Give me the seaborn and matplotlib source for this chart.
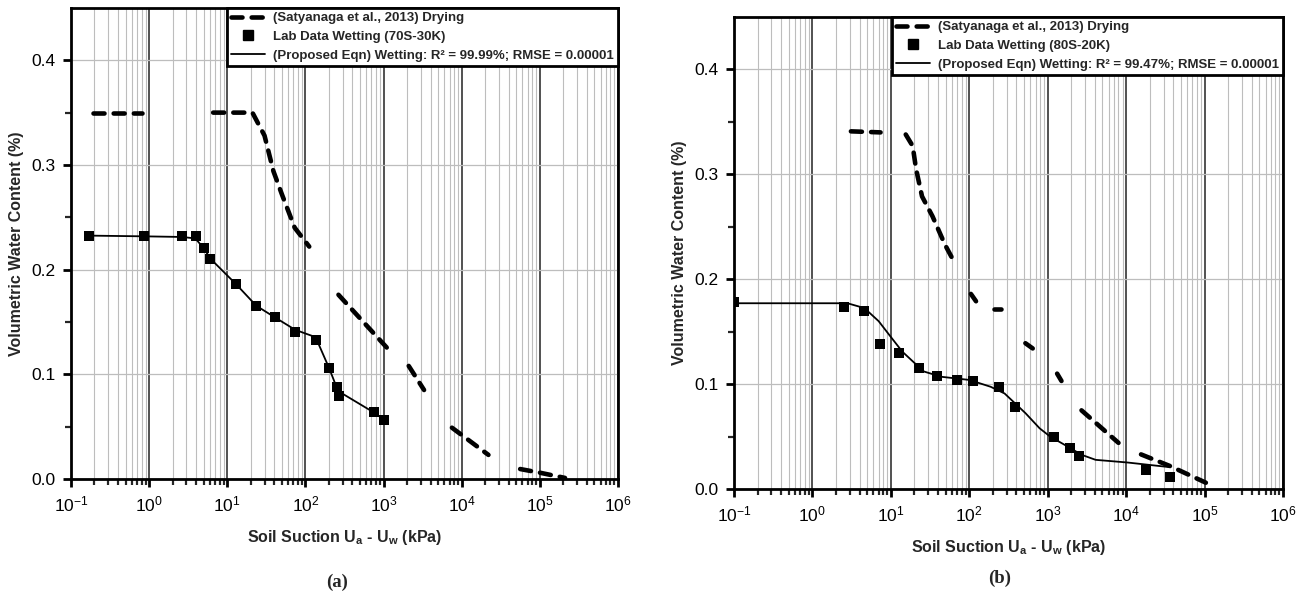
import numpy as np
import pandas as pd
import matplotlib
matplotlib.use('Agg')
import matplotlib.pyplot as plt
import seaborn as sns
from matplotlib.lines import Line2D
from matplotlib.ticker import FixedLocator, MultipleLocator, FormatStrFormatter, LogFormatterSciNotation, NullFormatter

nan = np.nan

# (a) 70S-30K
lab_a_suction = [0.168, 0.87, 2.65, 4.0, 5.0, 6.1, 13.0, 23.5, 40.5, 74, 135, 202, 254, 273, 745, 1010]
lab_a_vwc = [0.2325, 0.2322, 0.2322, 0.2318, 0.2205, 0.2104, 0.1860, 0.1655, 0.1545, 0.1403, 0.1330, 0.1056, 0.0883, 0.0795, 0.0637, 0.0568]
fit_a_suction = [0.168, 0.87, 2.65, 3.9, 5.0, 6.1, 13.0, 23.5, 40.5, 74, 135, 202, 262, 745, 1010]
fit_a_vwc = [0.2325, 0.2318, 0.2312, 0.2298, 0.2205, 0.2104, 0.1860, 0.1655, 0.1545, 0.1425, 0.1355, 0.1056, 0.084, 0.0637, 0.0568]
dry_a_suction = [0.19, 0.82, nan, 6.6, 21, 30, 39, 50, 73, 112, nan, 265, 1250, nan, 2100, 3300, nan, 7500, 22000, nan, 56000, 100000, 210000]
dry_a_vwc = [0.35, 0.35, nan, 0.35, 0.35, 0.328, 0.294, 0.272, 0.240, 0.222, nan, 0.176, 0.121, nan, 0.108, 0.085, nan, 0.049, 0.023, nan, 0.0095, 0.006, 0.001]

# (b) 80S-20K
lab_b_suction = [0.1, 2.5, 4.6, 7.35, 12.7, 23, 38.4, 70.5, 112, 242, 384, 1190, 1910, 2500, 18150, 36100]
lab_b_vwc = [0.1787, 0.1734, 0.1693, 0.1386, 0.1300, 0.1149, 0.1079, 0.1038, 0.1028, 0.0975, 0.0785, 0.0494, 0.0389, 0.0310, 0.0184, 0.0114]
fit_b_suction = [0.1, 2.8, 4.6, 7.0, 10, 14, 19.5, 26.5, 44, 100, 187, 282, 523, 789, 1075, 1796, 2710, 4090, 10300, 35400]
fit_b_vwc = [0.1771, 0.1771, 0.1725, 0.160, 0.145, 0.131, 0.121, 0.112, 0.107, 0.104, 0.0975, 0.0911, 0.0722, 0.0579, 0.050, 0.0405, 0.0326, 0.0278, 0.0253, 0.0209]
dry_b_suction = [3.1, 7.4, nan, 15.5, 19, 21, 25, 34, 49, 67, nan, 105, 122, nan, 207, 255, nan, 520, 645, nan, 1320, 1500, nan, 2700, 8000, nan, 15500, 36000, 104000]
dry_b_vwc = [0.341, 0.340, nan, 0.338, 0.327, 0.305, 0.279, 0.260, 0.233, 0.214, nan, 0.186, 0.179, nan, 0.172, 0.172, nan, 0.139, 0.134, nan, 0.110, 0.103, nan, 0.075, 0.044, nan, 0.033, 0.022, 0.006]

labels_a = ['(Satyanaga et al., 2013) Drying', 'Lab Data Wetting (70S-30K)',
            '(Proposed Eqn) Wetting: R² = 99.99%; RMSE = 0.00001']
labels_b = ['(Satyanaga et al., 2013) Drying', 'Lab Data Wetting (80S-20K)',
            '(Proposed Eqn) Wetting: R² = 99.47%; RMSE = 0.00001']

decades = [10.0 ** k for k in range(-1, 7)]
minor_ticks = [m * d for d in decades[:-1] for m in range(2, 10)]

sns.set_style('ticks')
plt.rcParams['font.family'] = ['Liberation Sans', 'DejaVu Sans']
plt.rcParams['mathtext.fontset'] = 'custom'
plt.rcParams['mathtext.rm'] = 'Liberation Sans'
plt.rcParams['mathtext.bf'] = 'Liberation Sans:bold'
plt.rcParams['mathtext.it'] = 'Liberation Sans:italic'

DASH = (0, (2.4, 2.0))


def segments(xs, ys):
    df = pd.DataFrame({'x': xs, 'y': ys})
    df['seg'] = df['y'].isna().cumsum()
    return df.dropna()


def draw_panel(ax, lab_x, lab_y, fit_x, fit_y, dry_x, dry_y, labels, msize):
    dry = segments(dry_x, dry_y)
    sns.lineplot(data=dry, x='x', y='y', units='seg', estimator=None, sort=False,
                 color='black', lw=3.3, linestyle=DASH, dash_capstyle='round',
                 legend=False, ax=ax, zorder=4)
    fit = pd.DataFrame({'x': fit_x, 'y': fit_y})
    sns.lineplot(data=fit, x='x', y='y', sort=False, estimator=None, color='black',
                 lw=1.3, legend=False, ax=ax, zorder=4)
    lab = pd.DataFrame({'x': lab_x, 'y': lab_y})
    sns.scatterplot(data=lab, x='x', y='y', marker='s', s=msize, color='black',
                    edgecolor='black', linewidth=0, legend=False, ax=ax, zorder=5)

    ax.set_xscale('log')
    ax.xaxis.set_major_locator(FixedLocator(decades))
    ax.xaxis.set_major_formatter(LogFormatterSciNotation())
    ax.xaxis.set_minor_locator(FixedLocator(minor_ticks))
    ax.xaxis.set_minor_formatter(NullFormatter())
    ax.set_xlim(1e-1, 1e6)
    ax.set_ylim(0, 0.45)
    ax.set_yticks([0.0, 0.1, 0.2, 0.3, 0.4])
    ax.yaxis.set_minor_locator(FixedLocator([0.05, 0.15, 0.25, 0.35]))
    ax.yaxis.set_major_formatter(FormatStrFormatter('%.1f'))

    ax.grid(which='major', axis='x', color='#222222', lw=1.1, zorder=0)
    ax.grid(which='minor', axis='x', color='#bdbdbd', lw=0.8, zorder=0)
    ax.grid(which='major', axis='y', color='#bdbdbd', lw=0.9, zorder=0)
    ax.set_axisbelow(True)

    for sp in ax.spines.values():
        sp.set_linewidth(2.0)
        sp.set_color('black')
    ax.tick_params(which='major', direction='out', length=6, width=2, labelsize=12.5,
                   colors='black', pad=5)
    ax.tick_params(which='minor', direction='out', length=4, width=1.6)

    ax.set_xlabel(r'Soil Suction U$_{\mathbf{a}}$ - U$_{\mathbf{w}}$ (kPa)',
                  fontsize=11.5, fontweight='bold', labelpad=10)
    ax.set_ylabel('Volumetric Water Content (%)', fontsize=11.5, fontweight='bold', labelpad=5)

    handles = [
        Line2D([], [], color='black', lw=3.3, linestyle=DASH, dash_capstyle='round'),
        Line2D([], [], color='black', marker='s', ls='none', ms=6.5),
        Line2D([], [], color='black', lw=1.3),
    ]
    leg = ax.legend(handles, labels, loc='upper right', borderaxespad=0, frameon=True,
                    fancybox=False, edgecolor='black', framealpha=1,
                    prop={'weight': 'bold', 'size': 9.5}, handlelength=2.6,
                    handletextpad=0.6, borderpad=0.3, labelspacing=0.5)
    leg.get_frame().set_linewidth(2.0)
    leg.set_zorder(10)


fig = plt.figure(figsize=(13.09, 5.97), dpi=100)
ax_a = fig.add_axes([0.0542, 0.1977, 0.4179, 0.789])
ax_b = fig.add_axes([0.5607, 0.1809, 0.4194, 0.7906])

draw_panel(ax_a, lab_a_suction, lab_a_vwc, fit_a_suction, fit_a_vwc,
           dry_a_suction, dry_a_vwc, labels_a, 60)
draw_panel(ax_b, lab_b_suction, lab_b_vwc, fit_b_suction, fit_b_vwc,
           dry_b_suction, dry_b_vwc, labels_b, 50)

fig.text(337 / 1309, 1 - 582 / 597, '(a)', ha='center', va='center',
         family='Liberation Serif', fontweight='bold', fontsize=13.5)
fig.text(1000 / 1309, 1 - 578 / 597, '(b)', ha='center', va='center',
         family='Liberation Serif', fontweight='bold', fontsize=13.5)

fig.savefig('out.png', dpi=100)
